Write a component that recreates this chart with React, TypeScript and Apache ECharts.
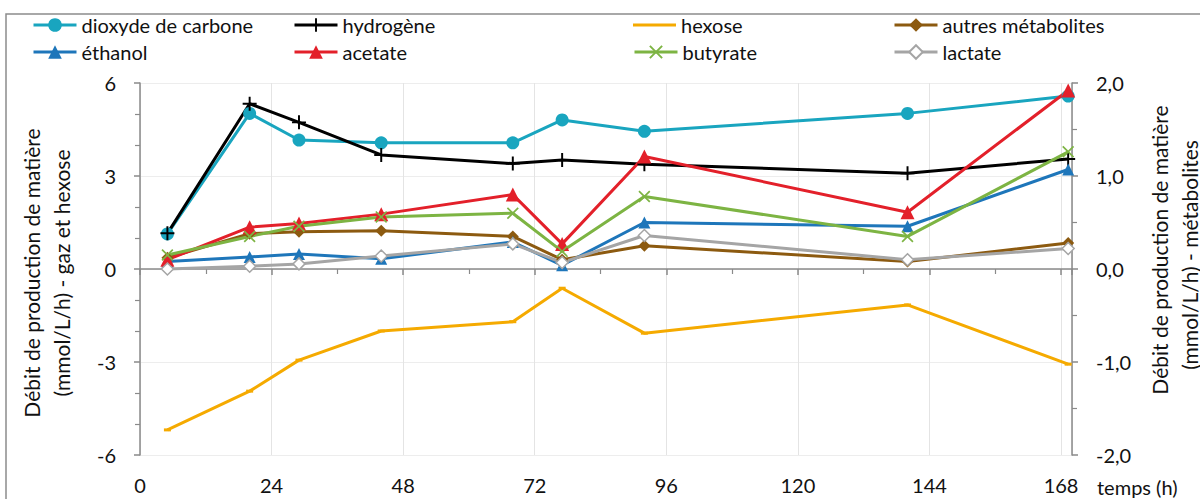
import React, { useEffect, useRef } from 'react';
import * as echarts from 'echarts';

// Sampling times (h)
const times = [5, 20, 29, 44, 68, 77, 92, 140, 169.3];

// Left axis (mmol/L/h) - gas and hexose
const dioxydeCarbone = [1.13, 5.02, 4.16, 4.07, 4.07, 4.81, 4.44, 5.02, 5.58];
const hydrogene = [1.15, 5.33, 4.73, 3.68, 3.4, 3.52, 3.38, 3.09, 3.55];
const hexose = [-5.19, -3.94, -2.94, -2.0, -1.7, -0.62, -2.07, -1.16, -3.07];

// Right axis (mmol/L/h) - metabolites
const autresMetabolites = [0.12, 0.38, 0.4, 0.41, 0.35, 0.1, 0.25, 0.08, 0.28];
const ethanol = [0.08, 0.13, 0.16, 0.11, 0.29, 0.04, 0.5, 0.46, 1.07];
const acetate = [0.1, 0.45, 0.49, 0.59, 0.8, 0.27, 1.21, 0.61, 1.92];
const butyrate = [0.15, 0.35, 0.46, 0.56, 0.6, 0.19, 0.78, 0.35, 1.26];
const lactate = [0.0, 0.03, 0.055, 0.14, 0.27, 0.07, 0.36, 0.1, 0.22];

const seriesNames = [
  'dioxyde de carbone',
  'hydrogène',
  'hexose',
  'autres métabolites',
  'éthanol',
  'acetate',
  'butyrate',
  'lactate',
];

const FONT = 'Lato, "Open Sans", sans-serif';

const PLUS = 'path://M4.3,0H5.7V4.3H10V5.7H5.7V10H4.3V5.7H0V4.3H4.3Z';
const CROSS = 'path://M0,1L1,0L5,4L9,0L10,1L6,5L10,9L9,10L5,6L1,10L0,9L4,5Z';
const LINE_ICON = 'path://M0,0H42V3H0Z';

function pairs(arr: number[]) {
  return times.map((t, i) => [t, arr[i]]);
}

function mk(
  name: string,
  arr: number[],
  color: string,
  symbol: string,
  symbolSize: any,
  yAxisIndex: number,
  itemStyle?: any
) {
  return {
    name,
    type: 'line',
    xAxisIndex: 0,
    yAxisIndex,
    data: pairs(arr),
    symbol,
    symbolSize,
    showSymbol: true,
    lineStyle: { color, width: 3 },
    itemStyle: itemStyle || { color, borderColor: color, borderWidth: 0 },
    color,
    emphasis: { disabled: true },
  };
}

export default function App() {
  const ref = useRef<HTMLDivElement>(null);

  useEffect(() => {
    const chart = echarts.init(ref.current!, null, { renderer: 'svg' });

    const legendCols = [32, 293, 633, 893];
    const legendRows = [14, 41];
    const legends = seriesNames.map((n, i) => ({
      data: [n === 'hexose' ? { name: n, icon: LINE_ICON, itemStyle: { color: '#F5AA00' } } : n],
      left: legendCols[i % 4],
      top: legendRows[Math.floor(i / 4)],
      itemWidth: 43,
      itemHeight: 17,
      padding: 0,
      selectedMode: false,
      lineStyle: { width: 3 },
      textStyle: { fontSize: 20, fontFamily: FONT, color: '#111', lineHeight: 22, padding: [0, 0, 0, 0] },
    }));

    const fmtComma = (v: number) => v.toFixed(1).replace('.', ',');

    const option: any = {
      animation: false,
      backgroundColor: '#fff',
      textStyle: { fontFamily: FONT },
      legend: legends,
      grid: { left: 140, right: 128, top: 83, bottom: 44, containLabel: false },
      xAxis: [
        {
          type: 'value',
          min: 0,
          max: 170,
          interval: 24,
          axisLine: { show: true, onZero: true, onZeroAxisIndex: 0, lineStyle: { color: '#8a8a8a', width: 1.5 } },
          axisTick: { show: true, length: 6, lineStyle: { color: '#8a8a8a', width: 1.5 } },
          minorTick: { show: true, splitNumber: 2, length: 5, lineStyle: { color: '#8a8a8a', width: 1.2 } },
          axisLabel: { show: false },
          splitLine: { show: false },
        },
        {
          type: 'value',
          min: 0,
          max: 170,
          interval: 24,
          position: 'bottom',
          axisLine: { show: false, onZero: false },
          axisTick: { show: false },
          axisLabel: {
            show: true,
            margin: 20,
            fontSize: 20,
            fontFamily: FONT,
            color: '#111',
            showMaxLabel: false,
            formatter: (v: number) => (v % 24 === 0 ? String(v) : ''),
          },
          splitLine: { show: true, lineStyle: { color: '#e4e4e4', width: 1 } },
        },
      ],
      yAxis: [
        {
          type: 'value',
          min: -6,
          max: 6,
          interval: 3,
          position: 'left',
          axisLine: { show: true, onZero: false, lineStyle: { color: '#8a8a8a', width: 1.5 } },
          axisTick: { show: true, length: 6, lineStyle: { color: '#8a8a8a', width: 1.5 } },
          minorTick: { show: true, splitNumber: 3, length: 5, lineStyle: { color: '#8a8a8a', width: 1.2 } },
          axisLabel: { margin: 24, fontSize: 20, fontFamily: FONT, color: '#111' },
          splitLine: { show: true, lineStyle: { color: '#ededed', width: 1 } },
        },
        {
          type: 'value',
          min: -2,
          max: 2,
          interval: 1,
          position: 'right',
          axisLine: { show: true, onZero: false, lineStyle: { color: '#8a8a8a', width: 1.5 } },
          axisTick: { show: true, length: 6, lineStyle: { color: '#8a8a8a', width: 1.5 } },
          minorTick: { show: true, splitNumber: 2, length: 5, lineStyle: { color: '#8a8a8a', width: 1.2 } },
          axisLabel: { margin: 24, fontSize: 20, fontFamily: FONT, color: '#111', formatter: fmtComma },
          splitLine: { show: false },
        },
      ],
      graphic: [
        {
          type: 'rect',
          silent: true,
          z: -10,
          shape: { x: 6, y: 14, width: 1220, height: 500 },
          style: { fill: 'none', stroke: '#8c8c8c', lineWidth: 1.5 },
        },
        {
          type: 'text',
          x: 31,
          y: 273,
          rotation: Math.PI / 2,
          style: { text: 'Débit de production de matière', font: `21px ${FONT}`, fill: '#111', textAlign: 'center', textVerticalAlign: 'middle' },
        },
        {
          type: 'text',
          x: 61,
          y: 273,
          rotation: Math.PI / 2,
          style: { text: '(mmol/L/h) - gaz et hexose', font: `21px ${FONT}`, fill: '#111', textAlign: 'center', textVerticalAlign: 'middle' },
        },
        {
          type: 'text',
          x: 1159,
          y: 250,
          rotation: Math.PI / 2,
          style: { text: 'Débit de production de matière', font: `21px ${FONT}`, fill: '#111', textAlign: 'center', textVerticalAlign: 'middle' },
        },
        {
          type: 'text',
          x: 1189,
          y: 255,
          rotation: Math.PI / 2,
          style: { text: '(mmol/L/h) - métabolites', font: `21px ${FONT}`, fill: '#111', textAlign: 'center', textVerticalAlign: 'middle' },
        },
        {
          type: 'text',
          x: 1097,
          y: 487,
          style: { text: 'temps (h)', font: `20px ${FONT}`, fill: '#111', textAlign: 'left', textVerticalAlign: 'middle' },
        },
      ],
      series: [
        mk(seriesNames[0], dioxydeCarbone, '#19A5BF', 'circle', 13, 0),
        mk(seriesNames[1], hydrogene, '#000000', PLUS, 14, 0),
        mk(seriesNames[2], hexose, '#F5AA00', 'rect', [7, 3], 0),
        mk(seriesNames[3], autresMetabolites, '#8C5A10', 'diamond', 12, 1),
        mk(seriesNames[4], ethanol, '#1E76BA', 'triangle', 12, 1),
        mk(seriesNames[5], acetate, '#E3202A', 'triangle', 14, 1),
        mk(seriesNames[6], butyrate, '#7DB443', CROSS, 12, 1),
        mk(seriesNames[7], lactate, '#A5A5A5', 'diamond', 12, 1, {
          color: '#ffffff',
          borderColor: '#A5A5A5',
          borderWidth: 1.5,
        }),
      ],
    };

    chart.setOption(option);
    return () => chart.dispose();
  }, []);

  return (
    <div
      ref={ref}
      style={{ position: 'absolute', left: 0, top: 0, width: 1200, height: 499, background: '#fff' }}
    />
  );
}
